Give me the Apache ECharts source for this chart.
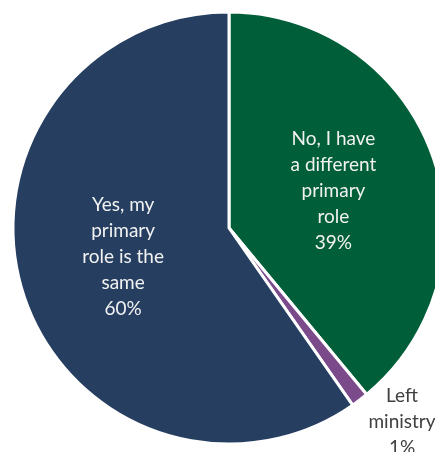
<!DOCTYPE html>
<html>
<head>
<meta charset="utf-8">
<script src="https://cdn.jsdelivr.net/npm/echarts@6/dist/echarts.min.js"></script>
<style>html,body{margin:0;padding:0;background:#fff;}#chart{width:435px;height:452px;}</style>
</head>
<body>
<div id="chart"></div>
<script>
const categories = ["No, I have\na different\nprimary\nrole", "Left\nministry", "Yes, my\nprimary\nrole is the\nsame"];
const values = [39.0, 1.3, 59.7];
const colors = ["#005e38", "#7a4a8b", "#263f61"];

const chart = echarts.init(document.getElementById('chart'));
const data = categories.map((c, i) => ({
  name: c,
  value: values[i],
  itemStyle: { color: colors[i] },
  label: i === 1 ? {
    position: 'outside', color: '#404040', distance: 8
  } : (i === 2 ? { position: 'inside', color: '#f2f2f2', offset: [0, -4] }
               : { position: 'inside', color: '#f2f2f2' }),
  labelLine: { show: false }
}));

chart.setOption({
  animation: false,
  series: [{
    type: 'pie',
    center: [229, 228],
    radius: [0, 216],
    startAngle: 90,
    clockwise: true,
    avoidLabelOverlap: false,
    itemStyle: { borderColor: '#ffffff', borderWidth: 3 },
    label: {
      show: true,
      fontFamily: 'Lato',
      fontSize: 19,
      lineHeight: 26,
      align: 'center',
      formatter: p => p.name + '\n' + Math.round(p.value) + '%'
    },
    labelLayout: function (p) {
      if (p.dataIndex === 1) {
        return { x: 402, y: 422, align: 'center', verticalAlign: 'middle' };
      }
      return {};
    },
    data: data
  }]
});
</script>
</body>
</html>
